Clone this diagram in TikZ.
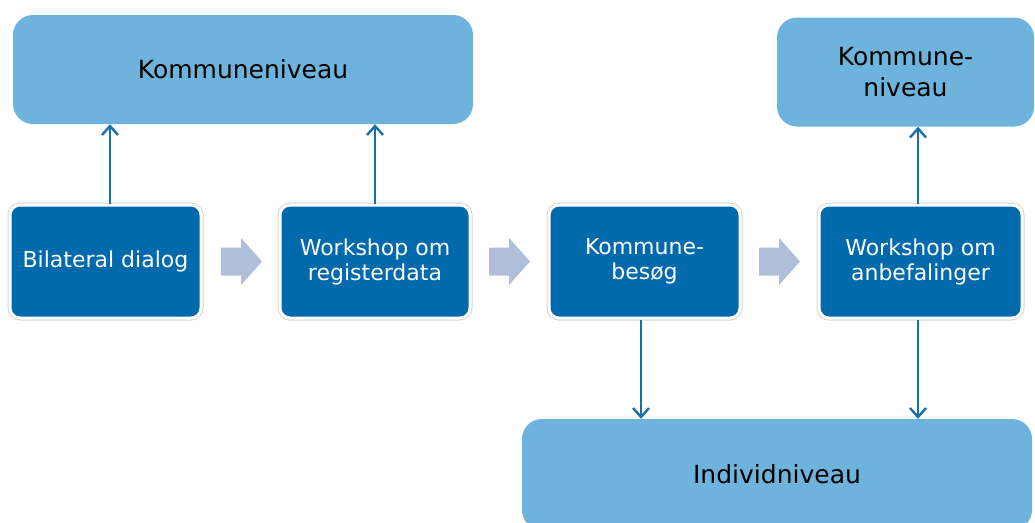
\documentclass[tikz,border=0pt]{standalone}
\usepackage{fontspec}
\setmainfont{DejaVu Sans}
\usetikzlibrary{arrows.meta,calc}
\definecolor{lightbox}{HTML}{6EB3DB}
\definecolor{darkbox}{HTML}{006AAC}
\definecolor{chev}{HTML}{AFBFD9}
\definecolor{arrowc}{HTML}{1C6EAA}
\definecolor{rimgray}{HTML}{D6D6D6}
\tikzset{
  lvl/.style={fill=lightbox, rounded corners=20pt, inner sep=0pt, align=center,
    text=black, font=\fontsize{25}{31}\selectfont},
  stepbox/.style={fill=darkbox, rounded corners=10pt, inner sep=0pt, align=center,
    text=white, font=\fontsize{22}{25}\selectfont,
    minimum width=191pt, minimum height=113pt,
    preaction={draw=rimgray, line width=5pt}, draw=white, line width=3pt},
  conn/.style={draw=arrowc, line width=2.4pt, -{Straight Barb[length=9pt,width=16pt,line width=2.4pt]}},
}
\newcommand{\chevron}[1]{%
  \fill[chev] ($(#1)+(-20.5,-14)$) -- ($(#1)+(-0.5,-14)$) -- ($(#1)+(-0.5,-23.5)$)
    -- ($(#1)+(20.5,0)$) -- ($(#1)+(-0.5,23.5)$) -- ($(#1)+(-0.5,14)$)
    -- ($(#1)+(-20.5,14)$) -- cycle;}
\begin{document}
\begin{tikzpicture}[x=1pt,y=-1pt]
\clip (0,0) rectangle (1035,522);
\fill[white] (0,0) rectangle (1035,522);
% level boxes
\node[lvl, minimum width=460pt, minimum height=109pt] (kn1) at (243,69.5) {Kommuneniveau};
\node[lvl, minimum width=257pt, minimum height=109pt] (kn2) at (905.5,72) {Kommune-\\niveau};
\node[lvl, minimum width=510pt, minimum height=111pt] (ind) at (777,474.5) {Individniveau};
% steps
\node[stepbox, minimum width=191pt] (s1) at (105.5,261.5) {Bilateral dialog};
\node[stepbox, minimum width=190pt] (s2) at (375,261.5) {Workshop om\\registerdata};
\node[stepbox, minimum width=191pt] (s3) at (644.5,261.5) {Kommune-\\besøg};
\node[stepbox, minimum width=203pt] (s4) at (920.5,261.5) {Workshop om\\anbefalinger};
% chevrons
\coordinate (c1) at (241.5,261.5);
\coordinate (c2) at (509.5,261.5);
\coordinate (c3) at (779.5,261.5);
\chevron{c1}
\chevron{c2}
\chevron{c3}
% connectors
\draw[conn] ([xshift=4.5pt]s1.north) -- ([xshift=4.5pt]s1.north |- kn1.south);
\draw[conn] (s2.north) -- (s2.north |- kn1.south);
\draw[conn] ([xshift=-3.5pt]s3.south) -- ([xshift=-3.5pt]s3.south |- ind.north);
\draw[conn] ([xshift=-2.5pt]s4.north) -- ([xshift=-2.5pt]s4.north |- kn2.south);
\draw[conn] ([xshift=-2.5pt]s4.south) -- ([xshift=-2.5pt]s4.south |- ind.north);
\end{tikzpicture}
\end{document}
